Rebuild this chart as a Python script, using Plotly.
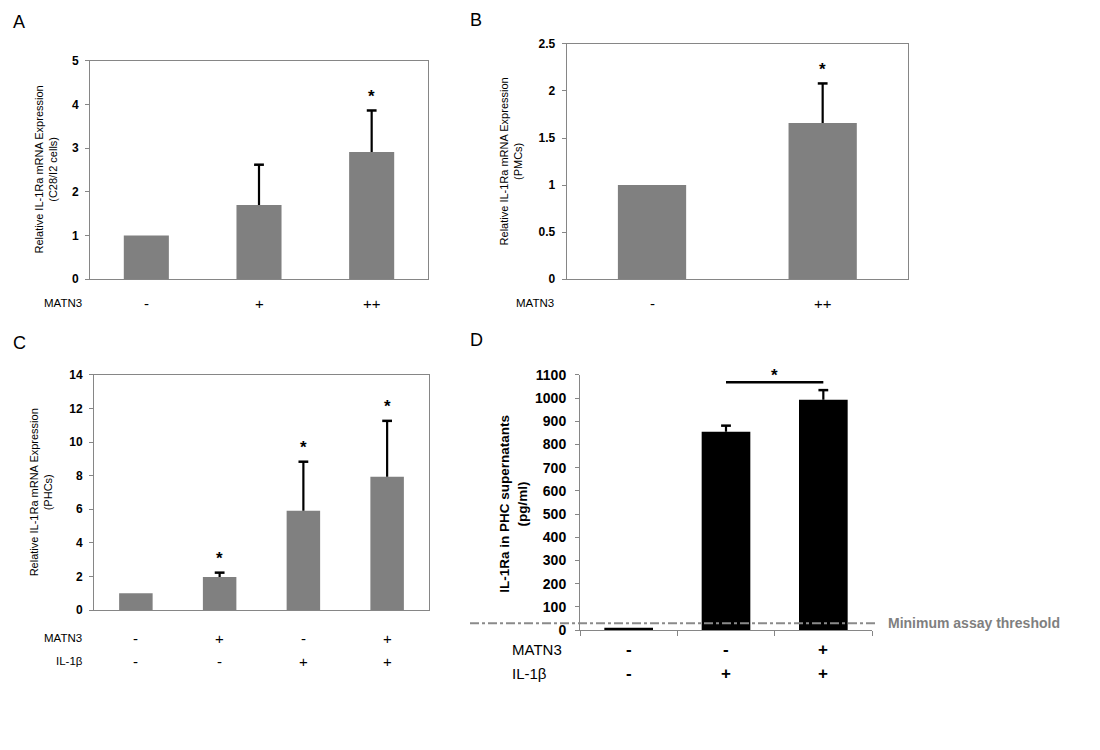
import plotly.graph_objects as go

W, H = 1100, 750
# vertical correction measured from the rendered output (page appears squashed slightly)
VS, VO = 0.976, 8.5
def px(x): return x / W
def py(y): return 1 - ((y - VO) / VS) / H

# ---------------- data ----------------
a_matn3 = ["-", "+", "++"]
a_vals = [1.0, 1.70, 2.91]
a_err = [None, 0.92, 0.95]
a_sig = [False, False, True]

b_matn3 = ["-", "++"]
b_vals = [1.0, 1.66]
b_err = [None, 0.42]
b_sig = [False, True]

c_matn3 = ["-", "+", "-", "+"]
c_il1b = ["-", "-", "+", "+"]
c_vals = [1.0, 1.97, 5.91, 7.94]
c_err = [None, 0.26, 2.92, 3.32]
c_sig = [False, True, True, True]

d_matn3 = ["-", "-", "+"]
d_il1b = ["-", "+", "+"]
d_vals = [10, 855, 993]
d_err = [None, 26, 41]
d_threshold = 30
d_sig_pair = [1, 2]
d_sig_level = 1068

FONT = "Arial, Liberation Sans, sans-serif"
GRAY = "#808080"
AXC = "#868686"

fig = go.Figure()

panels = [
    # key, vals, err, color, width, xdom, ydom, yrange, dtick
    ("1", a_vals, a_err, GRAY, 0.4, (90, 428), (61, 279), (0, 5), 1),
    ("2", b_vals, b_err, GRAY, 0.4, (566.7, 908), (44.3, 279), (0, 2.5), 0.5),
    ("3", c_vals, c_err, GRAY, 0.4, (94, 429), (374.3, 609), (0, 14), 2),
    ("4", d_vals, d_err, "black", 0.5, (580, 872), (374.3, 629), (0, 1100), 100),
]

for key, vals, err, col, bw, xd, yd, yr, dt in panels:
    xs = list(range(len(vals)))
    xa = "x" if key == "1" else "x" + key
    ya = "y" if key == "1" else "y" + key
    fig.add_trace(go.Bar(
        x=xs, y=vals, width=bw, marker=dict(color=col, line=dict(width=0)),
        error_y=dict(type="data", symmetric=False, array=err,
                     arrayminus=[0 if e is not None else None for e in err],
                     color="black", thickness=2.2, width=0),
        xaxis=xa, yaxis=ya, showlegend=False, hoverinfo="skip"))
    # caps of error bars
    cx = [x for x, e in zip(xs, err) if e is not None]
    cy = [v + e for v, e in zip(vals, err) if e is not None]
    fig.add_trace(go.Scatter(
        x=cx, y=cy, mode="markers",
        marker=dict(symbol="line-ew", size=7, color="black",
                    line=dict(color="black", width=2.5)),
        xaxis=xa, yaxis=ya, showlegend=False, hoverinfo="skip", cliponaxis=False))

    n = len(vals)
    is_d = key == "4"
    xname = "xaxis" if key == "1" else "xaxis" + key
    yname = "yaxis" if key == "1" else "yaxis" + key
    xaxis = dict(domain=[px(xd[0]), px(xd[1])], range=[-0.5, n - 0.5],
                 anchor=ya, showgrid=False, zeroline=False, showline=True,
                 linecolor=AXC, linewidth=1, showticklabels=False, fixedrange=True)
    if is_d:
        xaxis.update(tickmode="array", tickvals=[i - 0.5 for i in range(n + 1)],
                     ticks="outside", ticklen=5, tickcolor=AXC, mirror=False)
    else:
        xaxis.update(ticks="", mirror=True)
    yaxis = dict(domain=[py(yd[1]), py(yd[0])], range=list(yr), anchor=xa,
                 showgrid=False, zeroline=False, showline=True, linecolor=AXC,
                 linewidth=1, ticks="outside", ticklen=4, tickcolor=AXC,
                 dtick=dt, tick0=0, fixedrange=True,
                 tickfont=dict(family=FONT, size=14 if is_d else 12, color="black",
                               weight="bold"),
                 ticklabelstandoff=6 if is_d else 4)
    yaxis["mirror"] = False if is_d else True
    fig.layout[xname] = xaxis
    fig.layout[yname] = yaxis

ann = []
def add_text(text, x, y, size, xref="paper", yref="paper", xanchor="center",
             yanchor="middle", bold=False, color="black", angle=0, yshift=0):
    ann.append(dict(text=text, x=x, y=y, xref=xref, yref=yref, xanchor=xanchor,
                    yanchor=yanchor, showarrow=False, textangle=angle, yshift=yshift,
                    font=dict(family=FONT, size=size, color=color,
                              weight="bold" if bold else "normal")))

# panel letters
add_text("A", px(19), py(22), 18)
add_text("B", px(476), py(20), 18)
add_text("C", px(19), py(343), 18)
add_text("D", px(476), py(340), 18)

# y axis titles
add_text("Relative IL-1Ra mRNA Expression<br>(C28/I2 cells)", px(45.5), py(170), 11, angle=-90)
add_text("Relative IL-1Ra mRNA Expression<br>(PMCs)", px(511), py(161.5), 11, angle=-90)
add_text("Relative IL-1Ra mRNA Expression<br>(PHCs)", px(41), py(491.5), 11, angle=-90)
add_text("IL-1Ra in PHC supernatants<br>(pg/ml)", px(514), py(503), 13.5, angle=-90, bold=True)

# condition rows
add_text("MATN3", px(84), py(303), 11.5, xanchor="right")
for i, s in enumerate(a_matn3):
    add_text(s, i, py(303), 15, xref="x")
add_text("MATN3", px(556), py(303), 11.5, xanchor="right")
for i, s in enumerate(b_matn3):
    add_text(s, i, py(303), 15, xref="x2")
add_text("MATN3", px(84), py(637), 11.5, xanchor="right")
add_text("IL-1β", px(85), py(660), 11.5, xanchor="right")
for i, (s1, s2) in enumerate(zip(c_matn3, c_il1b)):
    add_text(s1, i, py(637), 15, xref="x3")
    add_text(s2, i, py(660), 15, xref="x3")
add_text("MATN3", px(510), py(648), 15, xanchor="left")
add_text("IL-1β", px(510), py(672), 15, xanchor="left")
for i, (s1, s2) in enumerate(zip(d_matn3, d_il1b)):
    add_text(s1, i, py(648), 17, xref="x4", bold=True)
    add_text(s2, i, py(672), 17, xref="x4", bold=True)

# significance stars
for key, vals, err, sig in [("", a_vals, a_err, a_sig), ("2", b_vals, b_err, b_sig),
                            ("3", c_vals, c_err, c_sig)]:
    for i, (v, e, s) in enumerate(zip(vals, err, sig)):
        if s:
            add_text("*", i, v + e, 17, xref="x" + key, yref="y" + key,
                     yanchor="middle", bold=True, yshift=14)

add_text("*", sum(d_sig_pair) / 2, d_sig_level, 17, xref="x4", yref="y4",
         yanchor="middle", bold=True, yshift=7)
add_text("Minimum assay threshold", px(886), d_threshold, 14, yref="y4",
         xanchor="left", bold=True, color="#7f7f7f")

fig.update_layout(
    width=W, height=H, margin=dict(l=0, r=0, t=0, b=0), autosize=False,
    paper_bgcolor="white", plot_bgcolor="white", annotations=ann,
    shapes=[
        dict(type="line", xref="paper", yref="y4", x0=px(470), x1=px(877),
             y0=d_threshold, y1=d_threshold, layer="above",
             line=dict(color="#8a8a8a", width=2, dash="dashdot")),
        dict(type="line", xref="x4", yref="y4", x0=d_sig_pair[0], x1=d_sig_pair[1],
             y0=d_sig_level, y1=d_sig_level, layer="above",
             line=dict(color="black", width=2.5)),
    ],
)

fig.write_html("out.html", config={"responsive": False, "displayModeBar": False},
               post_script="document.body.style.margin='0';document.body.style.overflow='hidden';")
